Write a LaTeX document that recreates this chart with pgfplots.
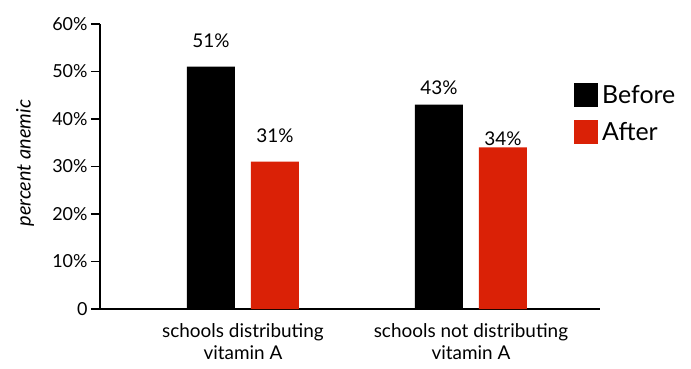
\documentclass[border=0pt]{standalone}
\usepackage{pgfplots}
\pgfplotsset{compat=1.18}
\usepackage{pgfplotstable}
\usepackage{fontspec}
\setmainfont{Lato}
\usetikzlibrary{calc}
\definecolor{barred}{RGB}{218,33,6}
\pgfplotstableread{
x y off
0 51 19
1 43 10
}\before
\pgfplotstableread{
x y off
0 31 19
1 34 2
}\after
\begin{document}
\begin{tikzpicture}
\begin{axis}[
  name=ax,
  scale only axis,
  width=500bp, height=285bp,
  xmin=-0.627, xmax=1.566,
  ymin=0, ymax=60,
  enlargelimits=false,
  axis lines=left,
  axis line style={-, line width=1.4bp},
  clip=false,
  xtick={0,1},
  xticklabels={{schools distributing\\vitamin A},{schools not distributing\\vitamin A}},
  xticklabel style={align=center, font=\fontsize{19}{22}\selectfont, yshift=-2bp},
  x tick style={draw=none},
  ytick={0,10,20,30,40,50,60},
  yticklabels={0,10\%,20\%,30\%,40\%,50\%,60\%},
  yticklabel style={font=\fontsize{18}{20}\selectfont},
  y tick style={line width=1.4bp, black},
  tick align=outside,
  major tick length=9bp,
  ylabel={\itshape percent anemic},
  ylabel style={at={(rel axis cs:-0.15,0.512)}, anchor=center, font=\fontsize{20}{22}\selectfont},
  legend style={draw=none, fill=none, at={(rel axis cs:0.948,0.793)}, anchor=north west,
    font=\fontsize{25}{28}\selectfont, row sep=13bp, inner sep=0pt,
    nodes={inner ysep=1.5bp, inner xsep=4bp}},
  legend cell align=left,
  legend image code/.code={\fill[#1] (0bp,-12bp) rectangle (24bp,12bp);},
]
\addplot[ybar, fill=black, draw=none, bar width=48bp, bar shift=-32bp,
  visualization depends on={\thisrow{off}\as\off},
  nodes near coords={\pgfmathprintnumber{\pgfplotspointmeta}\%},
  nodes near coords style={anchor=south, xshift=-32bp, yshift=\off bp, inner sep=0pt, font=\fontsize{19}{20}\selectfont, black, /pgf/number format/assume math mode=true}]
  table[x=x,y=y] {\before};
\addlegendentry{Before}
\addplot[ybar, fill=barred, draw=none, bar width=48bp, bar shift=32bp,
  visualization depends on={\thisrow{off}\as\off},
  nodes near coords={\pgfmathprintnumber{\pgfplotspointmeta}\%},
  nodes near coords style={anchor=south, xshift=32bp, yshift=\off bp, inner sep=0pt, font=\fontsize{19}{20}\selectfont, black, /pgf/number format/assume math mode=true}]
  table[x=x,y=y] {\after};
\addlegendentry{After}
\end{axis}
\pgfresetboundingbox
\path[use as bounding box] ($(ax.south west)+(-100bp,-60bp)$) rectangle ++(691bp,369bp);
\end{tikzpicture}
\end{document}
